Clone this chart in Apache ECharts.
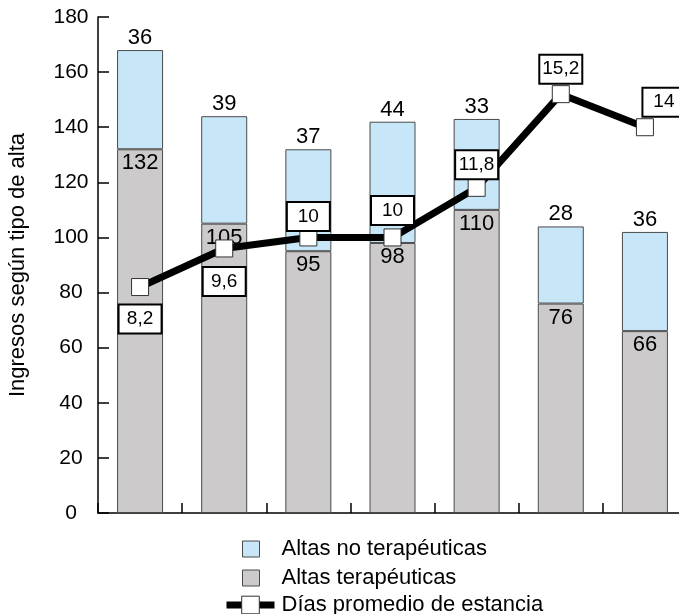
<!DOCTYPE html>
<html>
<head>
<meta charset="utf-8">
<script src="https://cdn.jsdelivr.net/npm/echarts@6/dist/echarts.min.js"></script>
<style>
  html, body { margin: 0; padding: 0; background: #fff; }
  #chart { width: 679px; height: 614px; }
</style>
</head>
<body>
<div id="chart"></div>
<script>
// Categories (no labels are printed under the bars)
const categories = ['1', '2', '3', '4', '5', '6', '7'];
// Altas terapéuticas (bottom of each stack)
const altasTerapeuticas = [132, 105, 95, 98, 110, 76, 66];
// Altas no terapéuticas (top of each stack)
const altasNoTerapeuticas = [36, 39, 37, 44, 33, 28, 36];
// Días promedio de estancia
const diasPromedio = [8.2, 9.6, 10, 10, 11.8, 15.2, 14];
// Y axis ticks
const yMin = 0, yMax = 180, yStep = 20;

// Where each boxed value sits relative to its marker
const boxPlacement = [
  { position: 'bottom', distance: 23 },
  { position: 'bottom', distance: 24 },
  { position: 'top', distance: 12 },
  { position: 'top', distance: 18 },
  { position: 'top', distance: 14 },
  { position: 'top', distance: 16 },
  { position: 'top', distance: 16, offset: [19, 0] }
];

const FONT = '"Liberation Sans", Arial, sans-serif';
const BLUE = '#C7E6F8';
const GRAY = '#CCCACB';
const EDGE = '#4a4a4a';

const comma = v => String(v).replace('.', ',');

const lineData = diasPromedio.map((v, i) => ({
  value: v,
  label: Object.assign({}, boxPlacement[i])
}));

const chart = echarts.init(document.getElementById('chart'), null, { renderer: 'canvas' });

chart.setOption({
  animation: false,
  backgroundColor: '#fff',
  textStyle: { fontFamily: FONT, color: '#000' },
  grid: { left: 98, top: 17, width: 589, height: 496, containLabel: false, outerBoundsMode: 'none' },
  legend: [
    {
      orient: 'vertical', left: 237, top: 533,
      itemWidth: 17, itemHeight: 16,
      data: [{ name: 'Altas no terapéuticas', icon: 'rect', itemStyle: { color: BLUE, borderColor: EDGE, borderWidth: 1 } }],
      textStyle: { fontFamily: FONT, fontSize: 22, color: '#000', padding: [0, 0, 0, 17] },
      selectedMode: false
    },
    {
      orient: 'vertical', left: 237, top: 562,
      itemWidth: 17, itemHeight: 16,
      data: [{ name: 'Altas terapéuticas', icon: 'rect', itemStyle: { color: GRAY, borderColor: EDGE, borderWidth: 1 } }],
      textStyle: { fontFamily: FONT, fontSize: 22, color: '#000', padding: [0, 0, 0, 17] },
      selectedMode: false
    },
    {
      orient: 'vertical', left: 218, top: 589,
      itemWidth: 48, itemHeight: 22,
      data: [{
        name: 'Días promedio de estancia',
        itemStyle: { color: '#fff', borderColor: '#333', borderWidth: 1 },
        lineStyle: { color: '#000', width: 7 }
      }],
      textStyle: { fontFamily: FONT, fontSize: 22, color: '#000', padding: [0, 0, 0, 2] },
      selectedMode: false
    }
  ],
  xAxis: {
    type: 'category',
    data: categories,
    boundaryGap: true,
    axisLine: { show: true, lineStyle: { color: '#000', width: 1.5 } },
    axisTick: { show: true, inside: true, length: 10, lineStyle: { color: '#000', width: 1.5 } },
    axisLabel: { show: false },
    splitLine: { show: false }
  },
  yAxis: [
    {
      type: 'value',
      min: yMin, max: yMax, interval: yStep,
      name: 'Ingresos según tipo de alta',
      nameLocation: 'middle',
      nameRotate: 90,
      nameGap: 69,
      nameTextStyle: { fontFamily: FONT, fontSize: 22, color: '#000' },
      axisLine: { show: true, lineStyle: { color: '#000', width: 1.5 } },
      axisTick: { show: true, inside: true, length: 11, lineStyle: { color: '#000', width: 1.5 } },
      axisLabel: { fontFamily: FONT, fontSize: 21, color: '#000', align: 'center', margin: 27 },
      splitLine: { show: false }
    },
    {
      type: 'value',
      min: yMin / 10, max: yMax / 10,
      show: false,
      splitLine: { show: false }
    }
  ],
  series: [
    {
      name: 'Altas terapéuticas',
      type: 'bar',
      stack: 'altas',
      barWidth: 46,
      data: altasTerapeuticas,
      itemStyle: { color: GRAY, borderColor: EDGE, borderWidth: 1 },
      label: {
        show: true, position: 'insideTop', distance: 3,
        fontFamily: FONT, fontSize: 22, color: '#000'
      }
    },
    {
      name: 'Altas no terapéuticas',
      type: 'bar',
      stack: 'altas',
      barWidth: 46,
      data: altasNoTerapeuticas,
      itemStyle: { color: BLUE, borderColor: EDGE, borderWidth: 1 },
      label: {
        show: true, position: 'top', distance: 1,
        fontFamily: FONT, fontSize: 22, color: '#000'
      }
    },
    {
      name: 'Días promedio de estancia',
      type: 'line',
      yAxisIndex: 1,
      z: 5,
      data: lineData,
      symbol: 'rect',
      symbolSize: 17,
      showAllSymbol: true,
      lineStyle: { color: '#000', width: 7 },
      itemStyle: { color: '#fff', borderColor: '#333', borderWidth: 1 },
      label: {
        show: true,
        formatter: p => comma(p.value),
        fontFamily: FONT, fontSize: 19, color: '#000',
        backgroundColor: '#fff',
        borderColor: '#000', borderWidth: 2,
        width: 41, height: 27, lineHeight: 27,
        align: 'center', verticalAlign: 'middle',
        padding: 0
      }
    }
  ]
});
</script>
</body>
</html>
